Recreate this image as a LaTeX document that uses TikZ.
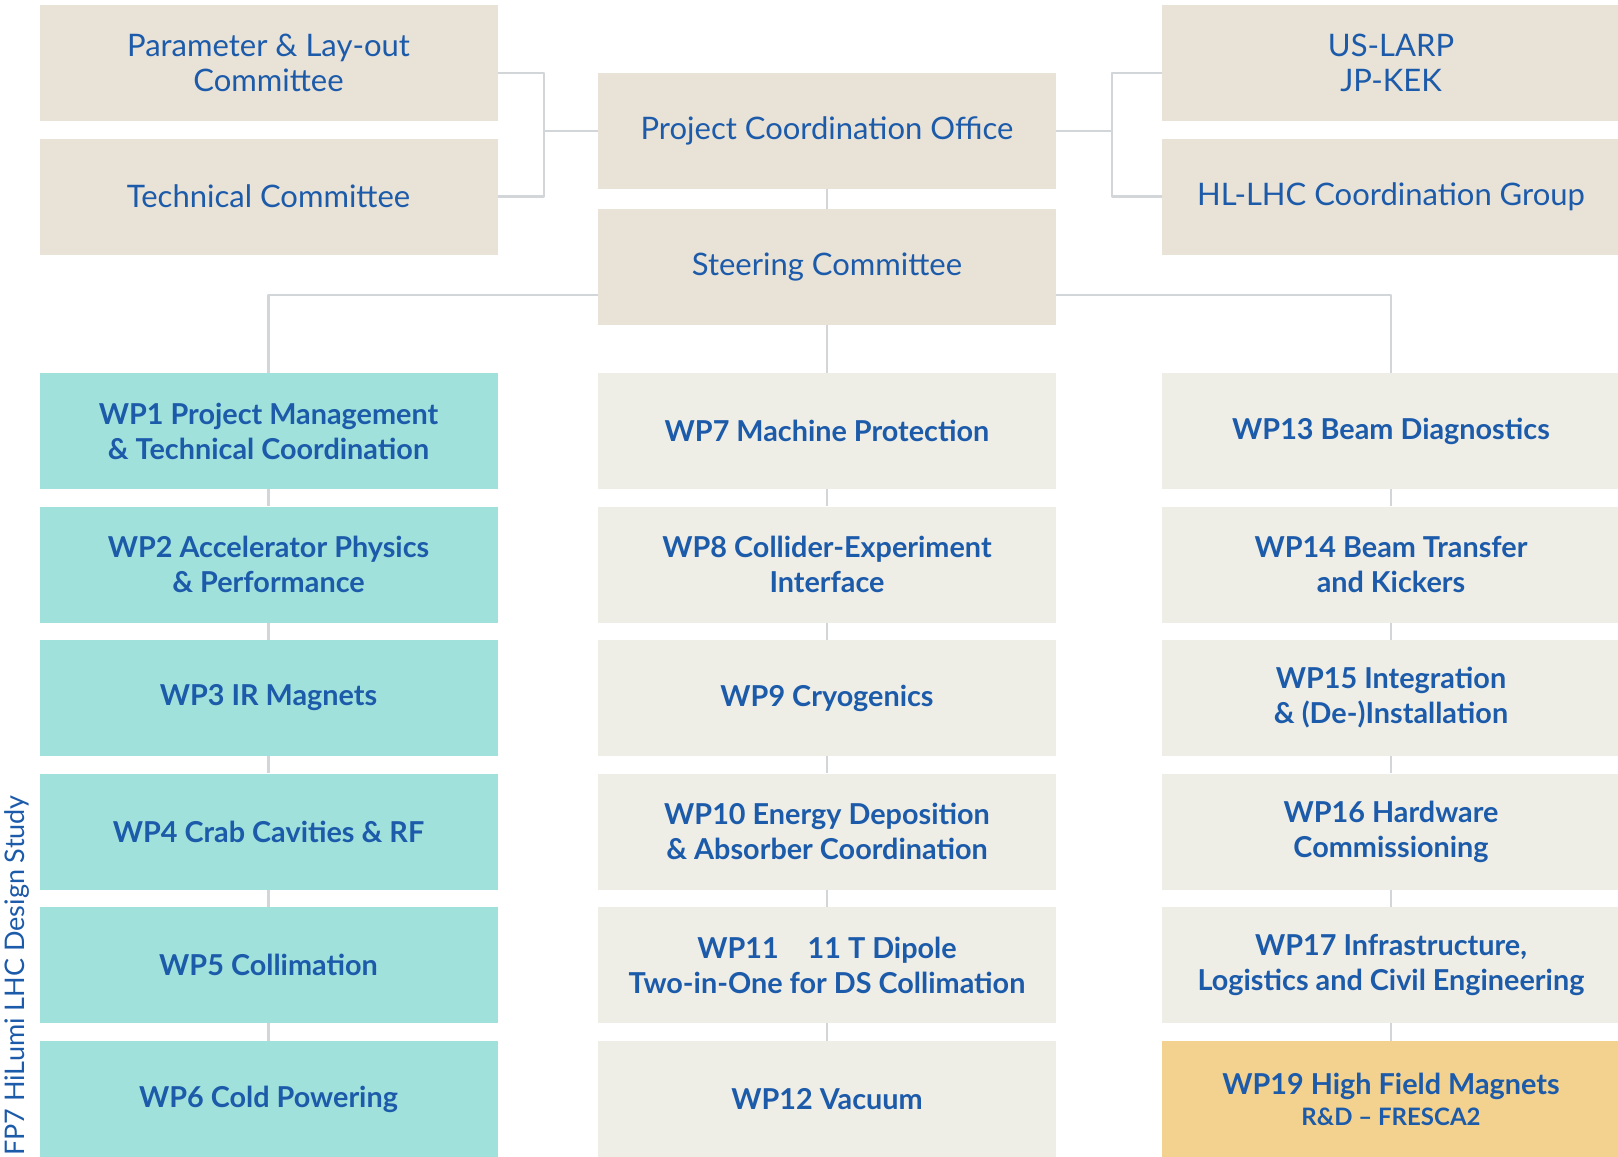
\documentclass[tikz,border=0pt]{standalone}
\usepackage{fontspec}
\setmainfont{Lato}
\definecolor{txtblue}{RGB}{28,90,170}
\definecolor{beige}{RGB}{232,226,215}
\definecolor{wpteal}{RGB}{160,225,220}
\definecolor{wpgrey}{RGB}{238,238,230}
\definecolor{wpgold}{RGB}{242,210,142}
\definecolor{linegrey}{RGB}{210,214,216}
\begin{document}
\begin{tikzpicture}[x=1pt,y=-1pt, line join=round,
	box/.style={minimum width=458, minimum height=116, inner sep=0, align=center, text=txtblue},
	top/.style={box, fill=beige, font=\fontsize{31}{35}\selectfont},
	wpl/.style={box, fill=wpteal, font=\bfseries\fontsize{28.8}{35}\selectfont},
	wpm/.style={box, fill=wpgrey, font=\bfseries\fontsize{28.8}{35}\selectfont},
	wpg/.style={box, fill=wpgold, font=\bfseries\fontsize{28.8}{31}\selectfont},
	conn/.style={draw=linegrey, line width=2.5}]
	\useasboundingbox[fill=white] (0,0) rectangle (1618,1157);
	\def\xa{268.5} \def\xb{827} \def\xc{1391}
	%committees
	\node[top] (param) at (\xa,63) {Parameter \& Lay-out\\Committee};
	\node[top] (tech) at (\xa,196.5) {Technical Committee};
	\node[top] (pco) at (\xb,131) {Project Coordination Office};
	\node[top] (steer) at (\xb,267) {Steering Committee};
	\node[top] (larp) at (\xc,63) {US-LARP\\JP-KEK};
	\node[top] (hllhc) at (\xc,196.5) {HL-LHC Coordination Group};
	%work packages
	\node[wpl] (wp1) at (\xa,431) {WP1 Project Management\\\& Technical Coordination};
	\node[wpl] (wp2) at (\xa,564.5) {WP2 Accelerator Physics\\\& Performance};
	\node[wpl] (wp3) at (\xa,698) {WP3 IR Magnets};
	\node[wpl] (wp4) at (\xa,831.5) {WP4 Crab Cavities \& RF};
	\node[wpl] (wp5) at (\xa,965) {WP5 Collimation};
	\node[wpl] (wp6) at (\xa,1099) {WP6 Cold Powering};
	\node[wpm] (wp7) at (\xb,431) {WP7 Machine Protection};
	\node[wpm] (wp8) at (\xb,564.5) {WP8 Collider-Experiment\\Interface};
	\node[wpm] (wp9) at (\xb,698) {WP9 Cryogenics};
	\node[wpm] (wp10) at (\xb,831.5) {WP10 Energy Deposition\\\& Absorber Coordination};
	\node[wpm] (wp11) at (\xb,965) {WP11\quad 11 T Dipole\\Two-in-One for DS Collimation};
	\node[wpm] (wp12) at (\xb,1099) {WP12 Vacuum};
	\node[wpm] (wp13) at (\xc,431) {WP13 Beam Diagnostics};
	\node[wpm] (wp14) at (\xc,564.5) {WP14 Beam Transfer\\and Kickers};
	\node[wpm] (wp15) at (\xc,698) {WP15 Integration\\\& (De-)Installation};
	\node[wpm] (wp16) at (\xc,831.5) {WP16 Hardware\\Commissioning};
	\node[wpm] (wp17) at (\xc,965) {WP17 Infrastructure,\\Logistics and Civil Engineering};
	\node[wpg] (wp19) at (\xc,1099) {WP19 High Field Magnets\\{\fontsize{24}{26}\selectfont R\&D -- FRESCA2}};
	\node[rotate=90, anchor=west, inner sep=0, text=txtblue, font=\fontsize{27}{30}\selectfont] (fp7) at (17,1156) {FP7 HiLumi LHC Design Study};
	%connectors
	\coordinate (lj) at (544,131);
	\coordinate (rj) at (1112,131);
	\coordinate (sj) at (\xb,295);
	\draw[conn] (param.east |- pco.north) -| (lj) |- (tech.east);
	\draw[conn] (lj) -- (pco.west);
	\draw[conn] (larp.west |- pco.north) -| (rj) |- (hllhc.west);
	\draw[conn] (rj) -- (pco.east);
	\draw[conn] (pco.south) -- (steer.north);
	\draw[conn] (steer.west |- sj) -| (wp1.north);
	\draw[conn] (steer.east |- sj) -| (wp13.north);
	\draw[conn] (steer.south) -- (wp7.north);
	\foreach \a/\b in {wp1/wp2,wp2/wp3,wp3/wp4,wp4/wp5,wp5/wp6,wp7/wp8,wp8/wp9,wp9/wp10,wp10/wp11,wp11/wp12,wp13/wp14,wp14/wp15,wp15/wp16,wp16/wp17,wp17/wp19}
		\draw[conn] (\a.south) -- (\b.north);
\end{tikzpicture}
\end{document}
